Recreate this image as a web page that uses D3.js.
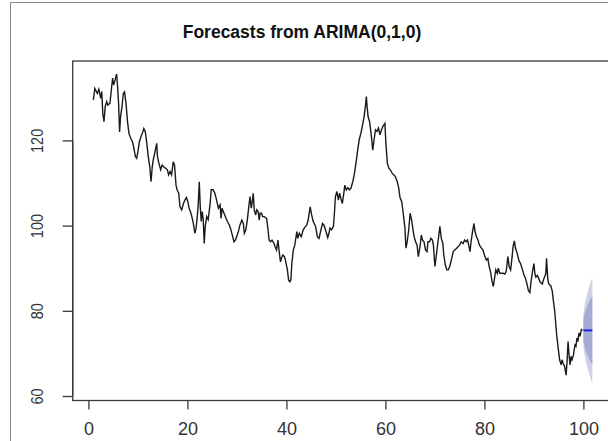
<!DOCTYPE html>
<html>
<head>
<meta charset="utf-8">
<script src="https://cdn.jsdelivr.net/npm/d3@7"></script>
<style>
  html, body { margin: 0; padding: 0; background: #fff; }
  svg { display: block; }
  text { font-family: "Liberation Sans", Arial, sans-serif; }
</style>
</head>
<body>
<svg id="chart" width="608" height="441"></svg>
<script>
// Observed series (time index, value)
const obsTime = [
  1.0,1.3,1.8,2.1,2.5,2.7,2.9,3.15,3.4,3.7,3.9,4.35,4.7,4.9,5.1,5.4,5.7,5.9,6.1,6.3,
  6.5,6.8,7.05,7.3,7.6,7.9,8.2,8.55,8.9,9.2,9.5,9.75,10.0,10.3,10.6,11.0,11.2,11.5,11.8,12.1,
  12.4,12.65,12.9,13.1,13.45,13.8,13.95,14.25,14.6,14.9,15.2,15.55,15.95,16.2,16.5,16.8,17.15,17.4,17.7,17.95,
  18.25,18.5,18.85,19.2,19.5,19.8,20.1,20.35,20.6,20.9,21.2,21.5,21.75,22.0,22.2,22.4,22.6,22.8,23.0,23.2,
  23.4,23.6,23.9,24.2,24.6,24.8,25.2,25.55,25.9,26.25,26.6,26.8,27.0,27.4,27.8,28.1,28.5,28.8,29.15,29.4,
  29.7,29.95,30.3,30.6,31.0,31.3,31.5,31.8,32.1,32.4,32.65,32.9,33.1,33.3,33.5,33.8,34.0,34.3,34.5,34.7,
  35.0,35.2,35.5,36.0,36.3,36.5,36.8,37.1,37.5,37.7,38.0,38.3,38.5,38.8,39.1,39.3,39.6,39.8,40.2,40.45,
  40.7,40.9,41.1,41.4,41.7,42.1,42.3,42.6,43.0,43.4,43.7,44.1,44.4,44.8,45.1,45.4,45.9,46.25,46.6,46.95,
  47.3,47.6,48.0,48.35,48.6,48.8,49.1,49.5,49.7,49.9,50.2,50.5,50.75,51.0,51.3,51.6,51.8,52.1,52.4,52.7,
  53.05,53.4,53.7,54.05,54.4,54.7,55.05,55.4,55.7,56.0,56.15,56.3,56.5,56.8,57.1,57.45,57.7,58.0,58.3,58.6,
  58.9,59.2,59.5,59.9,60.1,60.4,60.7,61.0,61.35,61.7,62.0,62.4,62.7,62.95,63.3,63.6,63.95,64.15,64.4,64.7,
  65.0,65.3,65.6,65.8,66.1,66.4,66.65,67.0,67.25,67.5,67.8,68.1,68.4,68.6,68.9,69.2,69.5,69.7,70.0,70.3,
  70.5,70.8,71.0,71.3,71.6,71.8,72.1,72.4,72.7,73.0,73.4,73.7,74.0,74.4,74.7,75.0,75.3,75.7,76.0,76.3,
  76.6,77.1,77.3,77.6,77.9,78.1,78.4,78.7,79.0,79.4,79.7,80.0,80.4,80.7,80.9,81.3,81.5,81.8,82.1,82.3,
  82.6,82.8,83.1,83.4,83.8,84.1,84.4,84.75,85.0,85.3,85.6,85.8,86.05,86.3,86.6,87.0,87.3,87.7,88.0,88.3,
  88.6,88.9,89.2,89.4,89.7,90.0,90.2,90.4,90.7,91.0,91.3,91.7,92.0,92.4,92.55,92.8,93.0,93.4,93.7,93.9,
  94.2,94.4,94.6,94.9,95.2,95.5,95.7,95.9,96.2,96.5,96.7,96.9,97.1,97.3,97.5,97.7,98.0,98.3,98.5,98.7,
  98.9,99.1,99.3,99.6,99.8
];
const obsValue = [
  129.5,132.2,131,132,129.9,131.5,126.4,124.4,128,129.1,128.3,128.7,132.6,134.6,133,134.2,135.6,132.6,128.7,122,
  125.6,128,131,131.4,128.7,124.4,121.6,120.5,119.7,118.1,116.2,115.8,117.3,119.7,120.8,122,122.8,122,119.3,116.2,
  113.8,110.3,113.8,115.4,117.3,119.3,116.2,114.6,113.1,114.2,113.8,113.5,113.1,111.9,112.7,111.9,115,114.2,109.5,108.3,
  107.6,104.4,103.7,105.2,106,106.6,105.6,104,103.3,102.1,100.5,98.2,99.4,102.1,105.2,110.3,104.4,101,103.3,101.4,
  95.8,99.8,102.1,101.4,105.2,108.4,108.4,107.6,106,104.1,104.9,101.7,104.1,102.9,101.7,100.9,100.1,99,97.4,96.2,
  96.6,97.4,98.6,100.1,101.3,100.5,98.2,99,101.3,104.4,106.8,104.1,105.6,107.6,103.7,102.5,103.7,103.3,101.3,102.9,
  102.9,102.1,102.1,101.7,99,96.6,96.2,96.6,95.8,95.1,94.3,96.6,94.3,91.5,92.7,93.1,92.7,91.9,89.6,87.2,
  86.8,87.2,91.1,94.3,95.4,98.6,97,98.2,97.4,99,99.6,100.1,101.3,104.4,102.5,101,99.8,97.4,97,98.9,
  100.5,100.1,98.6,97.2,98.2,99.4,99,99.8,102.9,106.8,108,106,107.6,106.4,105.2,107.6,109.5,108.4,108.9,108.4,
  108.8,110.3,111.9,114.6,117.7,120.1,121.7,123.7,125.6,128.4,130.3,128,125.6,124.4,121.7,117.7,120.1,122.5,122.1,122.9,
  121.3,122.5,123.3,124,119.3,114.6,113.5,113.1,112.3,111.9,111.5,110.3,108.8,106.6,105.6,102.9,99.4,94.7,96.2,98.9,
  102.9,101.3,98.9,97.4,96.2,95.4,92.7,95.1,97.8,96.6,96.2,94.3,93.9,96.2,96.2,97,96.6,95.4,90.4,93.1,
  95.1,97.8,99.8,97,95.8,93.1,90.8,89.6,89.6,90.4,92.3,93.9,94.3,94.7,95.1,95.4,96.2,95.8,96.6,96.2,
  96.6,93.9,96.2,98.6,100.5,98.6,97.4,96.6,95.4,94.7,94.3,93.1,91.9,92.3,90.8,88.8,87.2,85.7,88,89.6,
  88.8,90,88.8,88.8,88.8,88.6,89.2,92.7,90.4,89.6,92.7,95.1,96.4,94.6,93.6,91.7,91.1,89.6,88.4,87.6,
  86.3,84.7,84.3,86.7,89.1,91.1,88.7,87.9,88.3,87.5,86.7,86.3,87.5,88.7,92.3,87.5,86.3,85.9,84.7,82.7,
  80.0,77.2,74.4,71.3,68.5,67.3,68.5,67.7,67,64.9,68.1,72.8,69.7,67.3,69.3,68.5,69.7,72,71.7,73.6,
  72.8,74.8,74,75.6,75.4
];

// Random-walk forecast: point forecast with 80% and 95% intervals
const fcTime  = [100.0,100.2,100.4,100.6,100.8,101.0,101.2,101.4,101.6,101.8];
const fcMean  = [75.4,75.4,75.4,75.4,75.4,75.4,75.4,75.4,75.4,75.4];
const fcLo80  = [72.84,71.78,70.96,70.27,69.67,69.12,68.62,68.15,67.71,67.3];
const fcHi80  = [77.96,79.02,79.84,80.53,81.13,81.68,82.18,82.65,83.09,83.5];
const fcLo95  = [71.48,69.86,68.61,67.56,66.63,65.8,65.03,64.31,63.64,63.0];
const fcHi95  = [79.32,80.94,82.19,83.24,84.17,85.0,85.77,86.49,87.16,87.8];

const xTicks = [0, 20, 40, 60, 80, 100];
const yTicks = [60, 80, 100, 120];
const title = "Forecasts from ARIMA(0,1,0)";

const svg = d3.select("#chart");

// Outer frame
svg.append("rect")
  .attr("x", 10.5).attr("y", 2.5)
  .attr("width", 640).attr("height", 480)
  .attr("fill", "none").attr("stroke", "#8a8a8a").attr("stroke-width", 1);

const x = d3.scaleLinear().domain([0, 100]).range([88.4, 583.4]);
const y = d3.scaleLinear().domain([60, 120]).range([396, 140.4]);

const box = { left: x(-3.17), right: x(106.5), top: 61, bottom: 400.5 };
const axisColor = "#3a3a3a";

// Plot box
svg.append("rect")
  .attr("x", box.left).attr("y", box.top)
  .attr("width", box.right - box.left).attr("height", box.bottom - box.top)
  .attr("fill", "none").attr("stroke", axisColor).attr("stroke-width", 1.3);

// Prediction intervals
const fc = fcTime.map((t, i) => ({ t, m: fcMean[i], lo80: fcLo80[i], hi80: fcHi80[i], lo95: fcLo95[i], hi95: fcHi95[i] }));
const band = (lo, hi) => d3.area().x(d => x(d.t)).y0(d => y(d[lo])).y1(d => y(d[hi]));
svg.append("path").datum(fc).attr("d", band("lo95", "hi95")).attr("fill", "#cfd2e7");
svg.append("path").datum(fc).attr("d", band("lo80", "hi80")).attr("fill", "#a4abd4");

// Observed series
const obs = obsTime.map((t, i) => ({ t, v: obsValue[i] }));
svg.append("path").datum(obs)
  .attr("d", d3.line().x(d => x(d.t)).y(d => y(d.v)))
  .attr("fill", "none").attr("stroke", "#1a1a1a").attr("stroke-width", 1.4)
  .attr("stroke-linejoin", "miter");

// Point forecast
svg.append("path").datum(fc)
  .attr("d", d3.line().x(d => x(d.t)).y(d => y(d.m)))
  .attr("fill", "none").attr("stroke", "#2020f0").attr("stroke-width", 2);

// X axis
const xAxis = svg.append("g")
  .attr("transform", `translate(0,${box.bottom})`)
  .call(d3.axisBottom(x).tickValues(xTicks).tickSize(9).tickPadding(13).tickFormat(d3.format("d")));
xAxis.select(".domain").attr("stroke", "none");
xAxis.selectAll(".tick line").attr("stroke", axisColor).attr("stroke-width", 1.3);
xAxis.selectAll("text").attr("font-size", 18).attr("fill", "#333")
  .attr("font-family", "'Liberation Sans', Arial, sans-serif");

// Y axis
const yAxis = svg.append("g")
  .attr("transform", `translate(${box.left},0)`)
  .call(d3.axisLeft(y).tickValues(yTicks).tickSize(10).tickFormat(d3.format("d")));
yAxis.select(".domain").attr("d", `M0,${y(60)}V${y(120)}`).attr("stroke", axisColor).attr("stroke-width", 1.3);
yAxis.selectAll(".tick line").attr("stroke", axisColor).attr("stroke-width", 1.3);
yAxis.selectAll("text")
  .attr("x", 0).attr("dy", null)
  .attr("transform", `translate(${37 - box.left},0) rotate(-90) scale(1,1.2)`)
  .attr("text-anchor", "middle").attr("dominant-baseline", "central")
  .attr("font-size", 14.5).attr("fill", "#333")
  .attr("font-family", "'Liberation Sans', Arial, sans-serif");

// Title
svg.append("text")
  .attr("x", 302).attr("y", 38)
  .attr("text-anchor", "middle")
  .attr("font-size", 17.5).attr("font-weight", "bold").attr("fill", "#111")
  .text(title);
</script>
</body>
</html>
